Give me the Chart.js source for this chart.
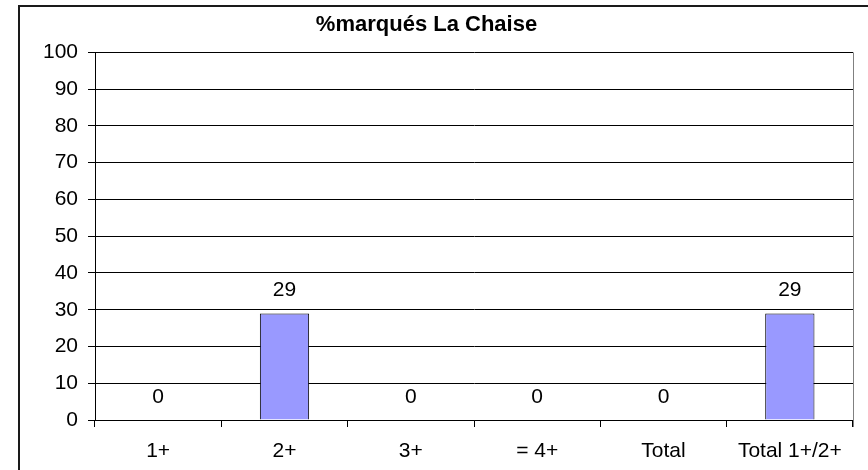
<!DOCTYPE html>
<html lang="fr">
<head>
  <meta charset="UTF-8" />
  <title>% marqués La Chaise</title>
  <script src="https://cdn.jsdelivr.net/npm/chart.js"></script>
  <style>
    html, body { margin: 0; padding: 0; background: #fff; }
    body { width: 868px; height: 470px; position: relative; overflow: hidden; }
    .frame {
      position: absolute; left: 18px; top: 5px; width: 900px; height: 500px;
      border-top: 2px solid #1a1a1a; border-left: 2px solid #1a1a1a;
    }
    .chart-box { position: absolute; left: 0; top: 0; width: 868px; height: 470px; }
  </style>
</head>
<body>
  <div class="frame"></div>
  <div class="chart-box"><canvas id="chart" width="868" height="470"></canvas></div>

  <script>
    const titre = '%marqués La Chaise';
    const categories = ['1+', '2+', '3+', '= 4+', 'Total', 'Total 1+/2+'];
    const valeurs = [0, 29, 0, 0, 0, 29];
    const yMin = 0, yMax = 100, yPas = 10;

    const police = "Arial, 'Liberation Sans', sans-serif";

    // valeurs au-dessus des barres
    const etiquettes = {
      id: 'etiquettes',
      afterDatasetsDraw(chart) {
        const ctx = chart.ctx;
        const meta = chart.getDatasetMeta(0);
        ctx.save();
        ctx.font = '21px ' + police;
        ctx.fillStyle = '#000';
        ctx.textAlign = 'center';
        ctx.textBaseline = 'middle';
        meta.data.forEach((bar, i) => {
          ctx.fillText(String(valeurs[i]), bar.x, bar.y - 23);
        });
        ctx.restore();
      }
    };

    // bord droit gris de la zone de tracé
    const cadre = {
      id: 'cadre',
      beforeDatasetsDraw(chart) {
        const a = chart.chartArea;
        const ctx = chart.ctx;
        ctx.save();
        ctx.strokeStyle = '#808080';
        ctx.lineWidth = 1;
        ctx.beginPath();
        ctx.moveTo(Math.round(a.right) + 0.5, a.top);
        ctx.lineTo(Math.round(a.right) + 0.5, a.bottom + 7);
        ctx.stroke();
        ctx.restore();
      }
    };

    new Chart(document.getElementById('chart'), {
      type: 'bar',
      data: {
        labels: categories,
        datasets: [{
          data: valeurs,
          backgroundColor: '#9999ff',
          borderColor: '#000',
          borderWidth: 1,
          barPercentage: 0.39,
          categoryPercentage: 1
        }]
      },
      options: {
        responsive: false,
        animation: false,
        layout: { padding: { left: 0, right: 15, top: 0, bottom: 0 } },
        plugins: {
          legend: { display: false },
          tooltip: { enabled: false },
          title: {
            display: true,
            text: titre,
            color: '#000',
            font: { family: police, size: 22, weight: 'bold' },
            padding: { top: 12, bottom: 14 }
          }
        },
        scales: {
          x: {
            offset: true,
            grid: { offset: true, drawOnChartArea: false, color: '#000', tickLength: 7 },
            border: { color: '#000' },
            ticks: { color: '#000', font: { family: police, size: 21 }, padding: 12, maxRotation: 0 },
            afterFit(scale) { scale.height = 50; }
          },
          y: {
            min: yMin, max: yMax,
            grid: { color: '#000', tickLength: 7 },
            border: { color: '#000' },
            ticks: { stepSize: yPas, color: '#000', font: { family: police, size: 21 }, padding: 10 },
            afterFit(scale) { scale.width = 95; }
          }
        }
      },
      plugins: [etiquettes, cadre]
    });
  </script>
</body>
</html>
